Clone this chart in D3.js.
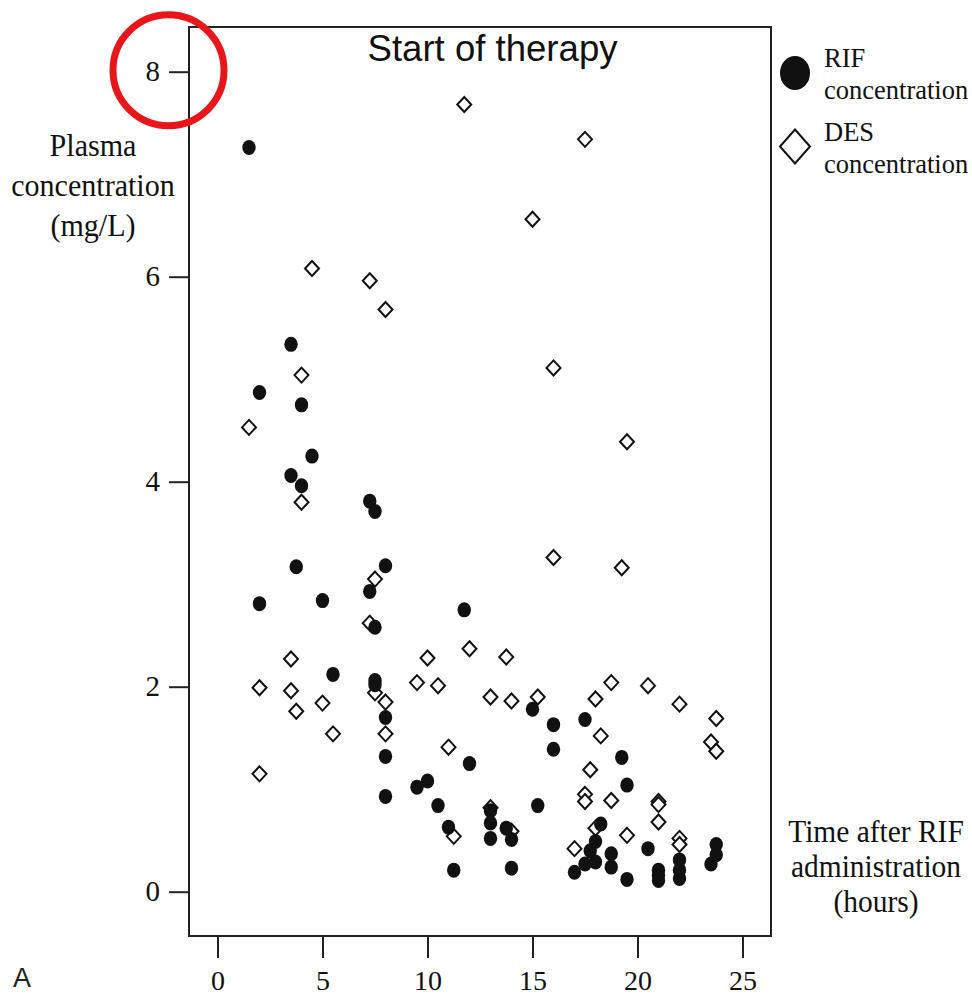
<!DOCTYPE html>
<html>
<head>
<meta charset="utf-8">
<script src="https://cdn.jsdelivr.net/npm/d3@7"></script>
<style>
  html, body { margin: 0; padding: 0; background: #fff; }
  svg { display: block; }
</style>
</head>
<body>
<svg id="chart" width="972" height="996"></svg>
<script>
// Rifampicin (RIF) plasma concentrations: [hours after dose, mg/L]
const rifPoints = [
  [1.5, 7.26], [2, 4.87], [2, 2.81], [3.5, 5.34], [3.5, 4.06], [3.75, 3.17],
  [4, 4.75], [4, 3.96], [4.5, 4.25], [5, 2.84], [5.5, 2.12],
  [7.25, 3.81], [7.5, 3.71], [7.25, 2.93], [7.5, 2.58], [7.5, 2.06], [7.5, 2.02],
  [8, 3.18], [8, 1.70], [8, 1.32], [8, 0.93],
  [9.5, 1.02], [10, 1.08], [10.5, 0.84], [11, 0.63], [11.25, 0.21],
  [11.75, 2.75], [12, 1.25],
  [13, 0.79], [13, 0.67], [13, 0.52], [13.75, 0.62], [14, 0.51], [14, 0.23],
  [15, 1.78], [15.25, 0.84], [16, 1.63], [16, 1.39],
  [17.5, 1.68], [17, 0.19], [17.5, 0.27], [17.75, 0.40], [18, 0.49], [18, 0.29],
  [18.25, 0.66], [18.75, 0.37], [18.75, 0.24],
  [19.25, 1.31], [19.5, 1.04], [19.5, 0.12], [20.5, 0.42],
  [21, 0.21], [21, 0.16], [21, 0.11], [22, 0.31], [22, 0.21], [22, 0.13],
  [23.5, 0.27], [23.75, 0.46], [23.75, 0.36]
];

// Desacetyl-rifampicin (DES) plasma concentrations: [hours after dose, mg/L]
const desPoints = [
  [1.5, 4.53], [2, 1.99], [2, 1.15], [3.5, 2.27], [3.5, 1.96], [3.75, 1.76],
  [4, 5.04], [4, 3.80], [4.5, 6.08], [5, 1.84], [5.5, 1.54],
  [7.25, 5.96], [7.25, 2.62], [7.5, 3.05], [7.5, 1.94],
  [8, 5.68], [8, 1.85], [8, 1.54],
  [9.5, 2.04], [10, 2.28], [10.5, 2.01], [11, 1.41], [11.25, 0.54],
  [11.75, 7.68], [12, 2.37], [13, 1.90], [13, 0.82], [13.75, 2.29],
  [14, 1.86], [14, 0.59], [15, 6.56], [15.25, 1.90], [16, 5.11], [16, 3.26],
  [17, 0.42], [17.5, 7.34], [17.5, 0.95], [17.5, 0.88], [17.75, 1.19],
  [18, 1.88], [18, 0.62], [18.25, 1.52], [18.75, 2.04], [18.75, 0.89],
  [19.25, 3.16], [19.5, 4.39], [19.5, 0.55], [20.5, 2.01],
  [21, 0.88], [21, 0.85], [21, 0.68], [22, 1.83], [22, 0.52], [22, 0.46],
  [23.5, 1.46], [23.75, 1.69], [23.75, 1.37]
];

const xTicks = [0, 5, 10, 15, 20, 25];
const yTicks = [0, 2, 4, 6, 8];
const highlightedTick = 8;
const titleText = "Start of therapy";
const yLabelLines = ["Plasma", "concentration", "(mg/L)"];
const xLabelLines = ["Time after RIF", "administration", "(hours)"];
const legendItems = [
  { shape: "circle", lines: ["RIF", "concentration"] },
  { shape: "diamond", lines: ["DES", "concentration"] }
];
const panelLetter = "A";

const SERIF = "'Liberation Serif', 'Times New Roman', Times, serif";
const SANS = "'Liberation Sans', Arial, Helvetica, sans-serif";
const INK = "#111";
const LINE = "#222";

const svg = d3.select("#chart");
const frame = { left: 189, right: 771, top: 27, bottom: 936 };

const x = d3.scaleLinear().domain([0, 25]).range([217.5, 742.5]);
const y = d3.scaleLinear().domain([0, 8]).range([891.7, 71.7]);

// Narrow the rendered glyphs horizontally by factor k
function squeeze(sel, k) {
  sel.each(function () {
    const w = this.getComputedTextLength();
    this.setAttribute("textLength", (w * k).toFixed(1));
    this.setAttribute("lengthAdjust", "spacingAndGlyphs");
  });
}

// Plot frame
svg.append("rect")
  .attr("x", frame.left).attr("y", frame.top)
  .attr("width", frame.right - frame.left)
  .attr("height", frame.bottom - frame.top)
  .attr("fill", "none").attr("stroke", LINE).attr("stroke-width", 2);

// Y axis
const yAxis = svg.append("g")
  .attr("transform", `translate(${frame.left},0)`)
  .call(d3.axisLeft(y).tickValues(yTicks).tickSize(20).tickPadding(9).tickFormat(d3.format("d")));
yAxis.attr("font-size", null).attr("font-family", null);
yAxis.select(".domain").remove();
yAxis.selectAll(".tick line").attr("stroke", LINE).attr("stroke-width", 2);
yAxis.selectAll(".tick text")
  .attr("font-family", SERIF).attr("font-size", 29).attr("fill", INK);

// X axis
const xAxis = svg.append("g")
  .attr("transform", `translate(0,${frame.bottom})`)
  .call(d3.axisBottom(x).tickValues(xTicks).tickSize(22).tickPadding(12).tickFormat(d3.format("d")));
xAxis.attr("font-size", null).attr("font-family", null);
xAxis.select(".domain").remove();
xAxis.selectAll(".tick line").attr("stroke", LINE).attr("stroke-width", 2);
xAxis.selectAll(".tick text")
  .attr("font-family", SERIF).attr("font-size", 28).attr("fill", INK);

// DES markers: open diamonds
const diamondPath = "M0,-7.5L7,0L0,7.5L-7,0Z";
svg.append("g").attr("class", "des")
  .selectAll("path").data(desPoints).join("path")
  .attr("transform", d => `translate(${x(d[0])},${y(d[1])})`)
  .attr("d", diamondPath)
  .attr("fill", "#fff").attr("stroke", INK).attr("stroke-width", 2)
  .attr("stroke-linejoin", "miter");

// RIF markers: filled circles
svg.append("g").attr("class", "rif")
  .selectAll("ellipse").data(rifPoints).join("ellipse")
  .attr("cx", d => x(d[0])).attr("cy", d => y(d[1]))
  .attr("rx", 6.7).attr("ry", 7.5)
  .attr("fill", INK);

// Title inside the frame
svg.append("text")
  .attr("x", 492.5).attr("y", 61)
  .attr("text-anchor", "middle")
  .attr("font-family", SANS).attr("font-size", 37).attr("fill", INK)
  .attr("textLength", 250).attr("lengthAdjust", "spacingAndGlyphs")
  .text(titleText);

// Y axis label (left of the axis)
const yLab = svg.append("g").selectAll("text").data(yLabelLines).join("text")
  .attr("x", 93).attr("y", (d, i) => 156 + i * 40)
  .attr("text-anchor", "middle")
  .attr("font-family", SERIF).attr("font-size", 31).attr("fill", INK)
  .text(d => d);
squeeze(yLab, 0.97);

// X axis label (right of the frame, near the baseline)
const xLab = svg.append("g").selectAll("text").data(xLabelLines).join("text")
  .attr("x", 876).attr("y", (d, i) => 842 + i * 35)
  .attr("text-anchor", "middle")
  .attr("font-family", SERIF).attr("font-size", 31).attr("fill", INK)
  .text(d => d);
squeeze(xLab, 0.95);

// Legend
const legend = svg.append("g").attr("class", "legend");
legendItems.forEach((item, i) => {
  const cy = 73 + i * 73.5;
  if (item.shape === "circle") {
    legend.append("ellipse")
      .attr("cx", 795).attr("cy", cy).attr("rx", 15).attr("ry", 17)
      .attr("fill", INK);
  } else {
    legend.append("path")
      .attr("transform", `translate(795,${cy})`)
      .attr("d", "M0,-17L15,0L0,17L-15,0Z")
      .attr("fill", "#fff").attr("stroke", INK).attr("stroke-width", 2);
  }
  legend.selectAll(null).data(item.lines).join("text")
    .attr("x", 824).attr("y", (d, j) => cy - 6 + j * 32)
    .attr("font-family", SERIF).attr("font-size", 26.5).attr("fill", INK)
    .text(d => d);
});

// Red ring drawn around the top y tick label
svg.append("circle")
  .attr("cx", 168.5).attr("cy", y(highlightedTick) - 1.5)
  .attr("r", 55.5)
  .attr("fill", "none").attr("stroke", "#e8161b").attr("stroke-width", 7);

// Panel letter
svg.append("text")
  .attr("x", 13).attr("y", 987)
  .attr("font-family", SANS).attr("font-size", 27).attr("fill", "#222")
  .text(panelLetter);
</script>
</body>
</html>
